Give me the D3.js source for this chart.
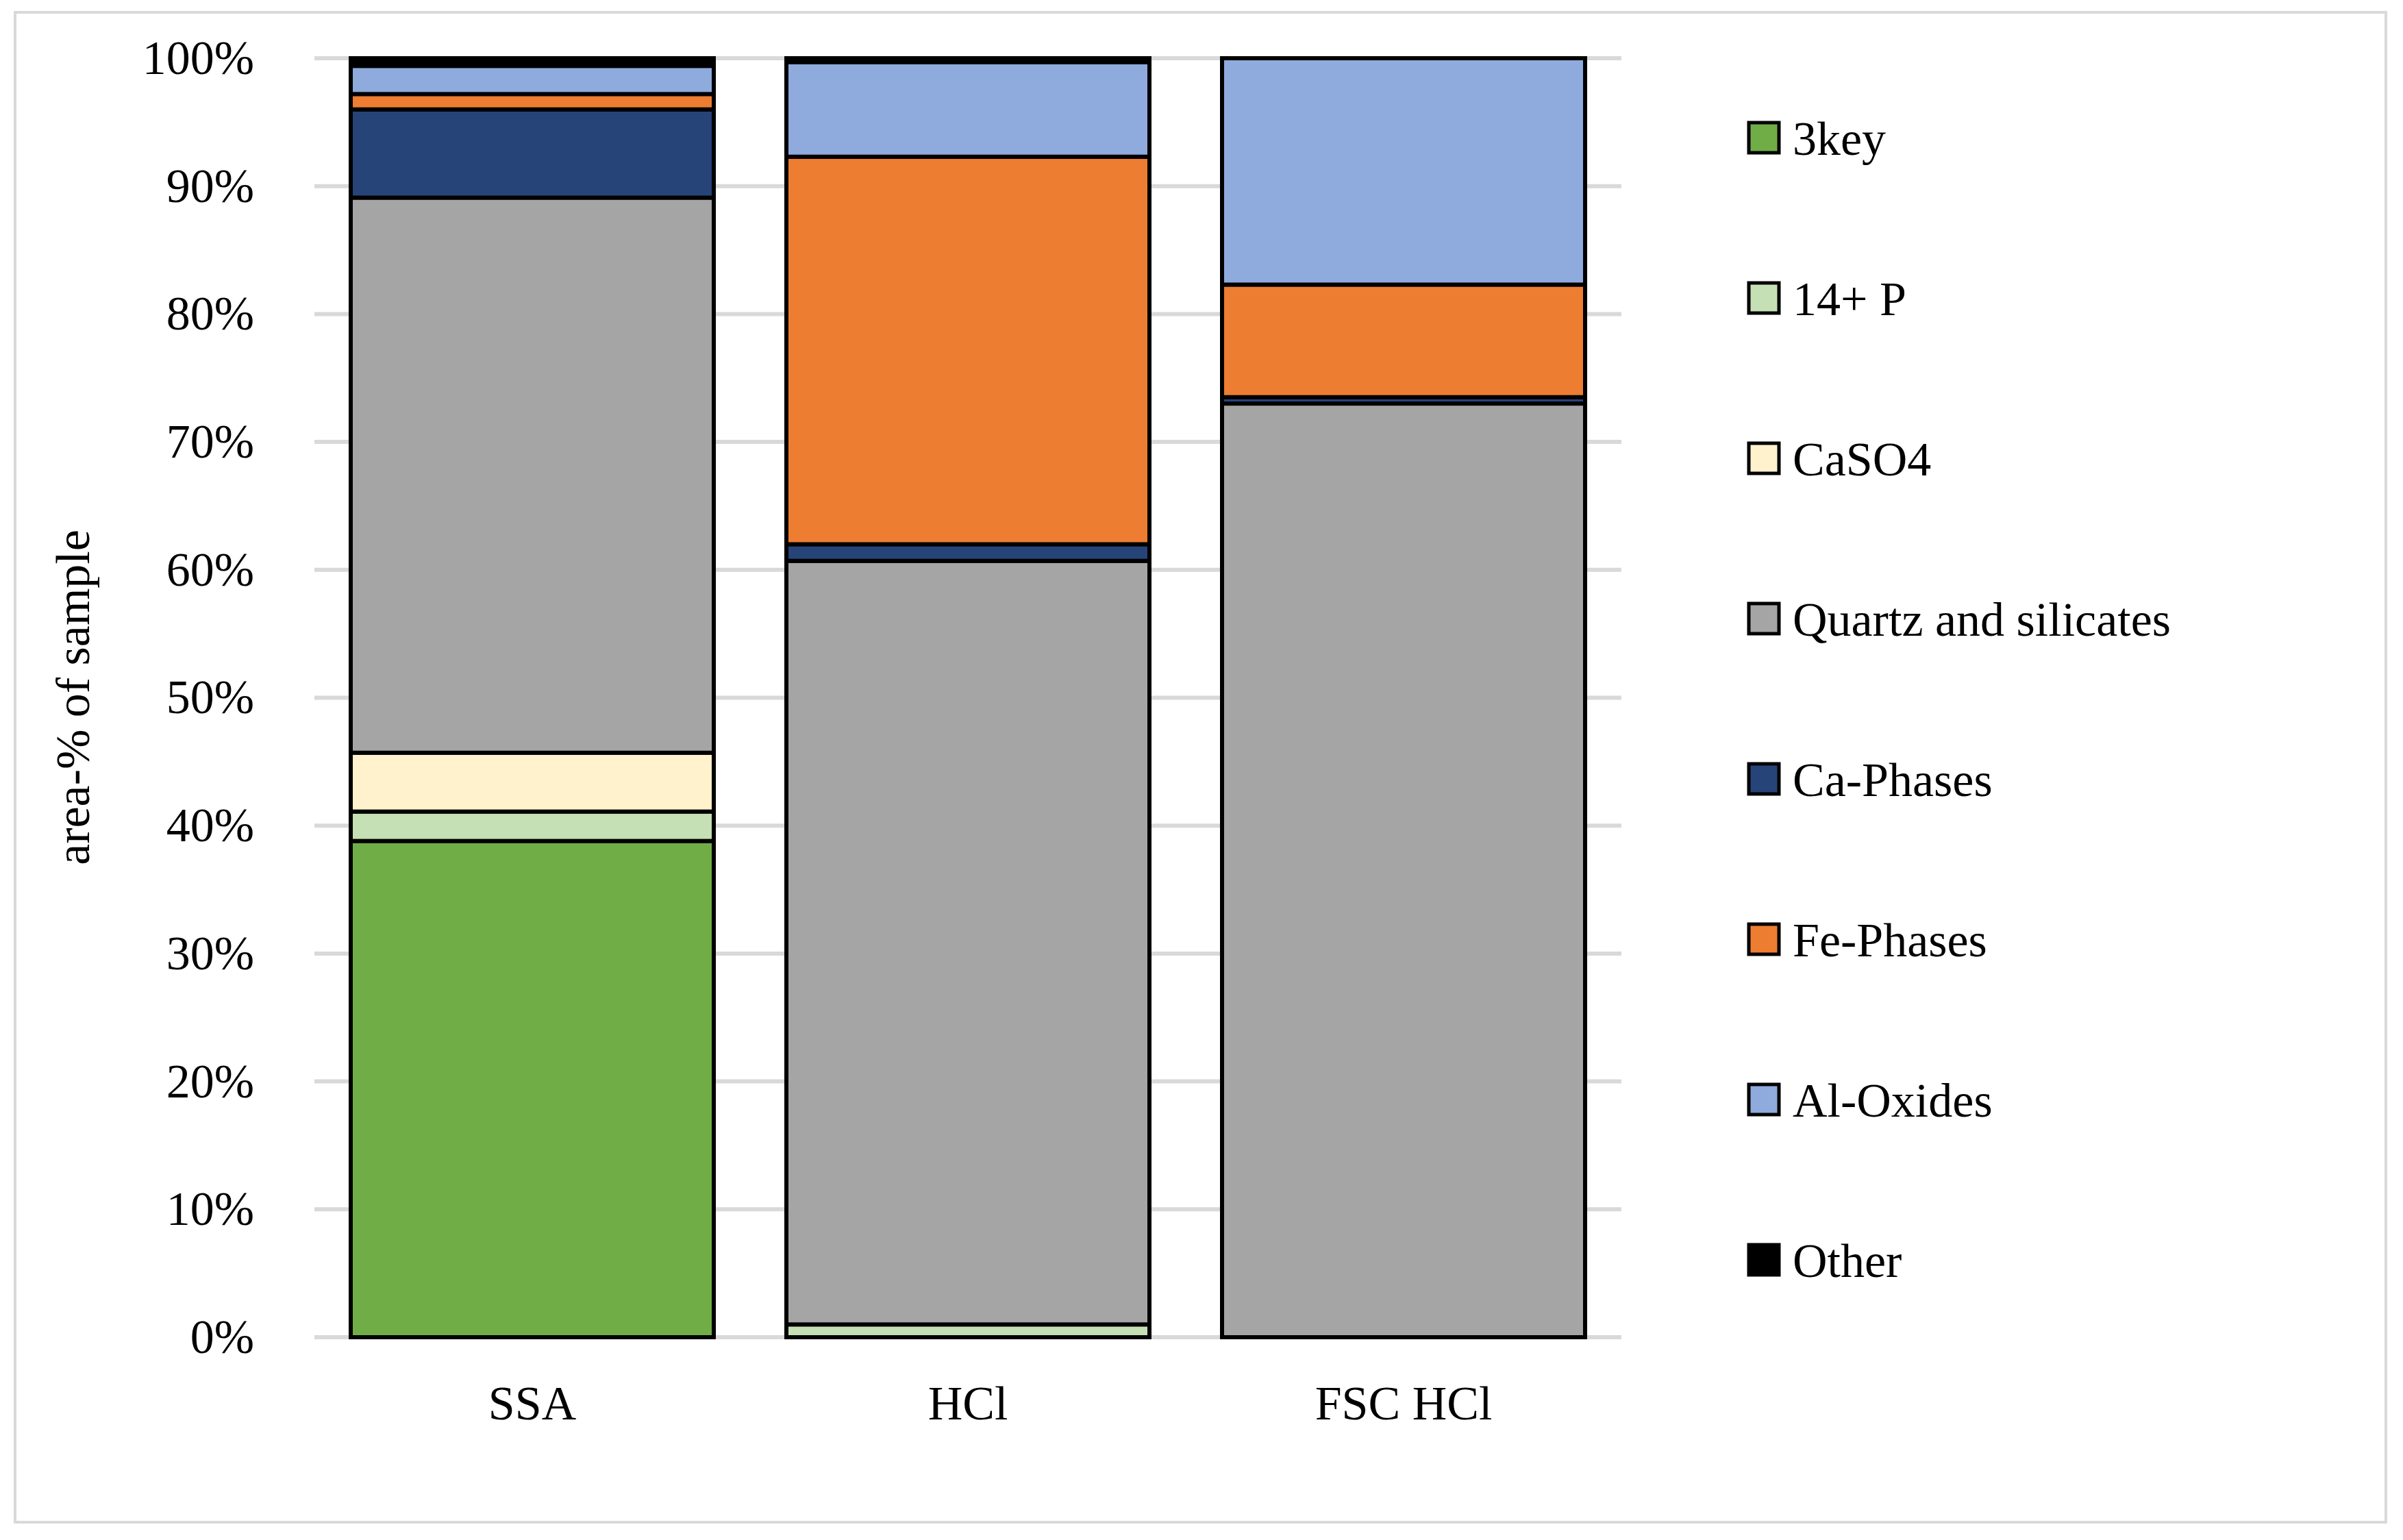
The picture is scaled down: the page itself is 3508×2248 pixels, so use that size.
<!DOCTYPE html>
<html><head><meta charset="utf-8">
<script src="https://cdn.jsdelivr.net/npm/d3@7"></script>
<style>body{margin:0;background:#fff}</style></head>
<body><svg id="c" width="3508" height="2248"></svg>
<script>
const categories = ["SSA", "HCl", "FSC HCl"];
const seriesNames = ["3key", "14+ P", "CaSO4", "Quartz and silicates", "Ca-Phases", "Fe-Phases", "Al-Oxides", "Other"];
const seriesColors = ["#70ad47", "#c5e0b4", "#fff2cc", "#a5a5a5", "#264478", "#ed7d31", "#8faadc", "#000000"];
const v3key    = [38.8, 0,    0];
const v14P     = [2.3,  1.0,  0];
const vCaSO4   = [4.6,  0,    0];
const vQuartz  = [43.4, 59.7, 73.0];
const vCa      = [6.9,  1.3,  0.5];
const vFe      = [1.2,  30.3, 8.8];
const vAl      = [2.2,  7.4,  17.7];
const vOther   = [0.6,  0.3,  0];
const yTicks = [0,10,20,30,40,50,60,70,80,90,100];

const seriesVals = [v3key, v14P, vCaSO4, vQuartz, vCa, vFe, vAl, vOther];
const rows = categories.map((c,i)=>{const r={cat:c}; seriesNames.forEach((s,j)=>r[s]=seriesVals[j][i]); return r;});
const stacked = d3.stack().keys(seriesNames)(rows);

const svg = d3.select("#c");
const font = "'Liberation Serif', 'DejaVu Serif', serif";
svg.append("rect").attr("x",22).attr("y",18).attr("width",3461).attr("height",2204)
  .attr("fill","#fff").attr("stroke","#d9d9d9").attr("stroke-width",4);

const x = d3.scaleBand().domain(categories).range([459,2367]).paddingInner(1/6).paddingOuter(1/12);
const y = d3.scaleLinear().domain([0,100]).range([1952,85]);

svg.append("g").selectAll("line").data(yTicks).join("line")
  .attr("x1",459).attr("x2",2367).attr("y1",d=>y(d)).attr("y2",d=>y(d))
  .attr("stroke","#d9d9d9").attr("stroke-width",6);

const yAxis = svg.append("g").attr("transform","translate(459,0)")
  .call(d3.axisLeft(y).tickValues(yTicks).tickFormat(d=>d+"%").tickSize(0).tickPadding(88));
yAxis.select(".domain").remove();
yAxis.selectAll("text").attr("font-family",font).attr("font-size",70).attr("fill","#000");

const xAxis = svg.append("g").attr("transform","translate(0,1952)")
  .call(d3.axisBottom(x).tickSize(0).tickPadding(70));
xAxis.select(".domain").remove();
xAxis.selectAll("text").attr("font-family",font).attr("font-size",70).attr("fill","#000");

svg.append("text").attr("transform","translate(130,1018) rotate(-90)").attr("text-anchor","middle")
  .attr("font-family",font).attr("font-size",70).text("area-% of sample");

stacked.forEach((layer,j)=>{
  svg.append("g").selectAll("rect").data(layer.filter(d=>d[1]-d[0]>0)).join("rect")
    .attr("x",d=>x(d.data.cat)).attr("width",x.bandwidth())
    .attr("y",d=>y(d[1])).attr("height",d=>y(d[0])-y(d[1]))
    .attr("fill",seriesColors[j]).attr("stroke","#000").attr("stroke-width",6);
});

const leg = svg.append("g");
seriesNames.forEach((s,i)=>{
  const cy = 201 + i*234;
  leg.append("rect").attr("x",2553).attr("y",cy-22).attr("width",44).attr("height",44)
    .attr("fill",seriesColors[i]).attr("stroke","#000").attr("stroke-width",5);
  leg.append("text").attr("x",2617).attr("y",cy).attr("dy","0.35em")
    .attr("font-family",font).attr("font-size",70).text(s);
});
</script></body></html>
